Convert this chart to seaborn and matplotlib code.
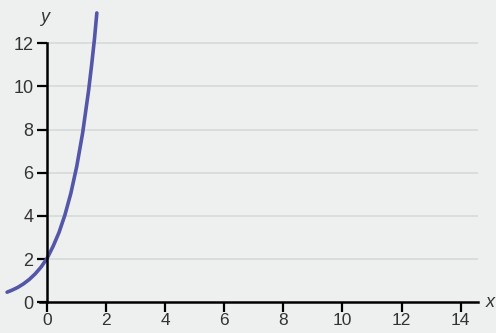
import numpy as np
import pandas as pd
import matplotlib
matplotlib.use("Agg")
import matplotlib.pyplot as plt
import seaborn as sns

# points
curve_x = [-1.36, -1.2, -1.0, -0.8, -0.6, -0.4, -0.2, 0.0, 0.2, 0.4, 0.6, 0.8, 1.0, 1.2, 1.4, 1.5, 1.6, 1.68]
curve_y = [0.47, 0.56, 0.69, 0.86, 1.07, 1.33, 1.65, 2.05, 2.6, 3.24, 4.05, 5.05, 6.3, 7.85, 9.8, 10.95, 12.2, 13.4]

x_ticks = [0, 2, 4, 6, 8, 10, 12, 14]
y_ticks = [0, 2, 4, 6, 8, 10, 12]

bg = "#edf0ee"
sns.set_style("ticks", {"axes.facecolor": bg, "figure.facecolor": bg})
plt.rcParams["font.family"] = ["Liberation Sans", "DejaVu Sans"]

df = pd.DataFrame({"x": curve_x, "y": curve_y})

fig = plt.figure(figsize=(4.96, 3.33), dpi=100)
ax = fig.add_axes([0, 0, 1, 1])
ax.set_xlim(-1.6, 15.2)
ax.set_ylim(-1.42, 14.0)

# grid lines only to the right of the y axis
ax.hlines(y_ticks[1:], 0, 14.6, color="#d6dad8", lw=1.2, zorder=1)

sns.lineplot(data=df, x="x", y="y", sort=False, estimator=None,
             color="#5456a8", lw=2.6, ax=ax, zorder=3)

for side in ["top", "right"]:
    ax.spines[side].set_visible(False)
ax.spines["left"].set_position(("data", 0))
ax.spines["bottom"].set_position(("data", 0))
ax.spines["left"].set_bounds(0, 12)
ax.spines["bottom"].set_bounds(-0.25, 14.6)
for side in ["left", "bottom"]:
    ax.spines[side].set_linewidth(1.8)
    ax.spines[side].set_color("black")
    ax.spines[side].set_zorder(4)

ax.set_xticks(x_ticks)
ax.set_yticks(y_ticks)
ax.tick_params(axis="both", bottom=True, left=True, direction="out", length=7,
               width=1.6, color="black", labelsize=13, labelcolor="#333333", pad=3)
ax.tick_params(axis="x", labelsize=12.5, pad=1)
ax.set_xlabel("")
ax.set_ylabel("")

ax.text(14.85, 0, "x", style="italic", fontsize=13, color="#333333", va="center", ha="left")
ax.text(-0.1, 13.2, "y", style="italic", fontsize=13, color="#333333", va="center", ha="center")

fig.savefig("out.png", dpi=100, facecolor=bg)
